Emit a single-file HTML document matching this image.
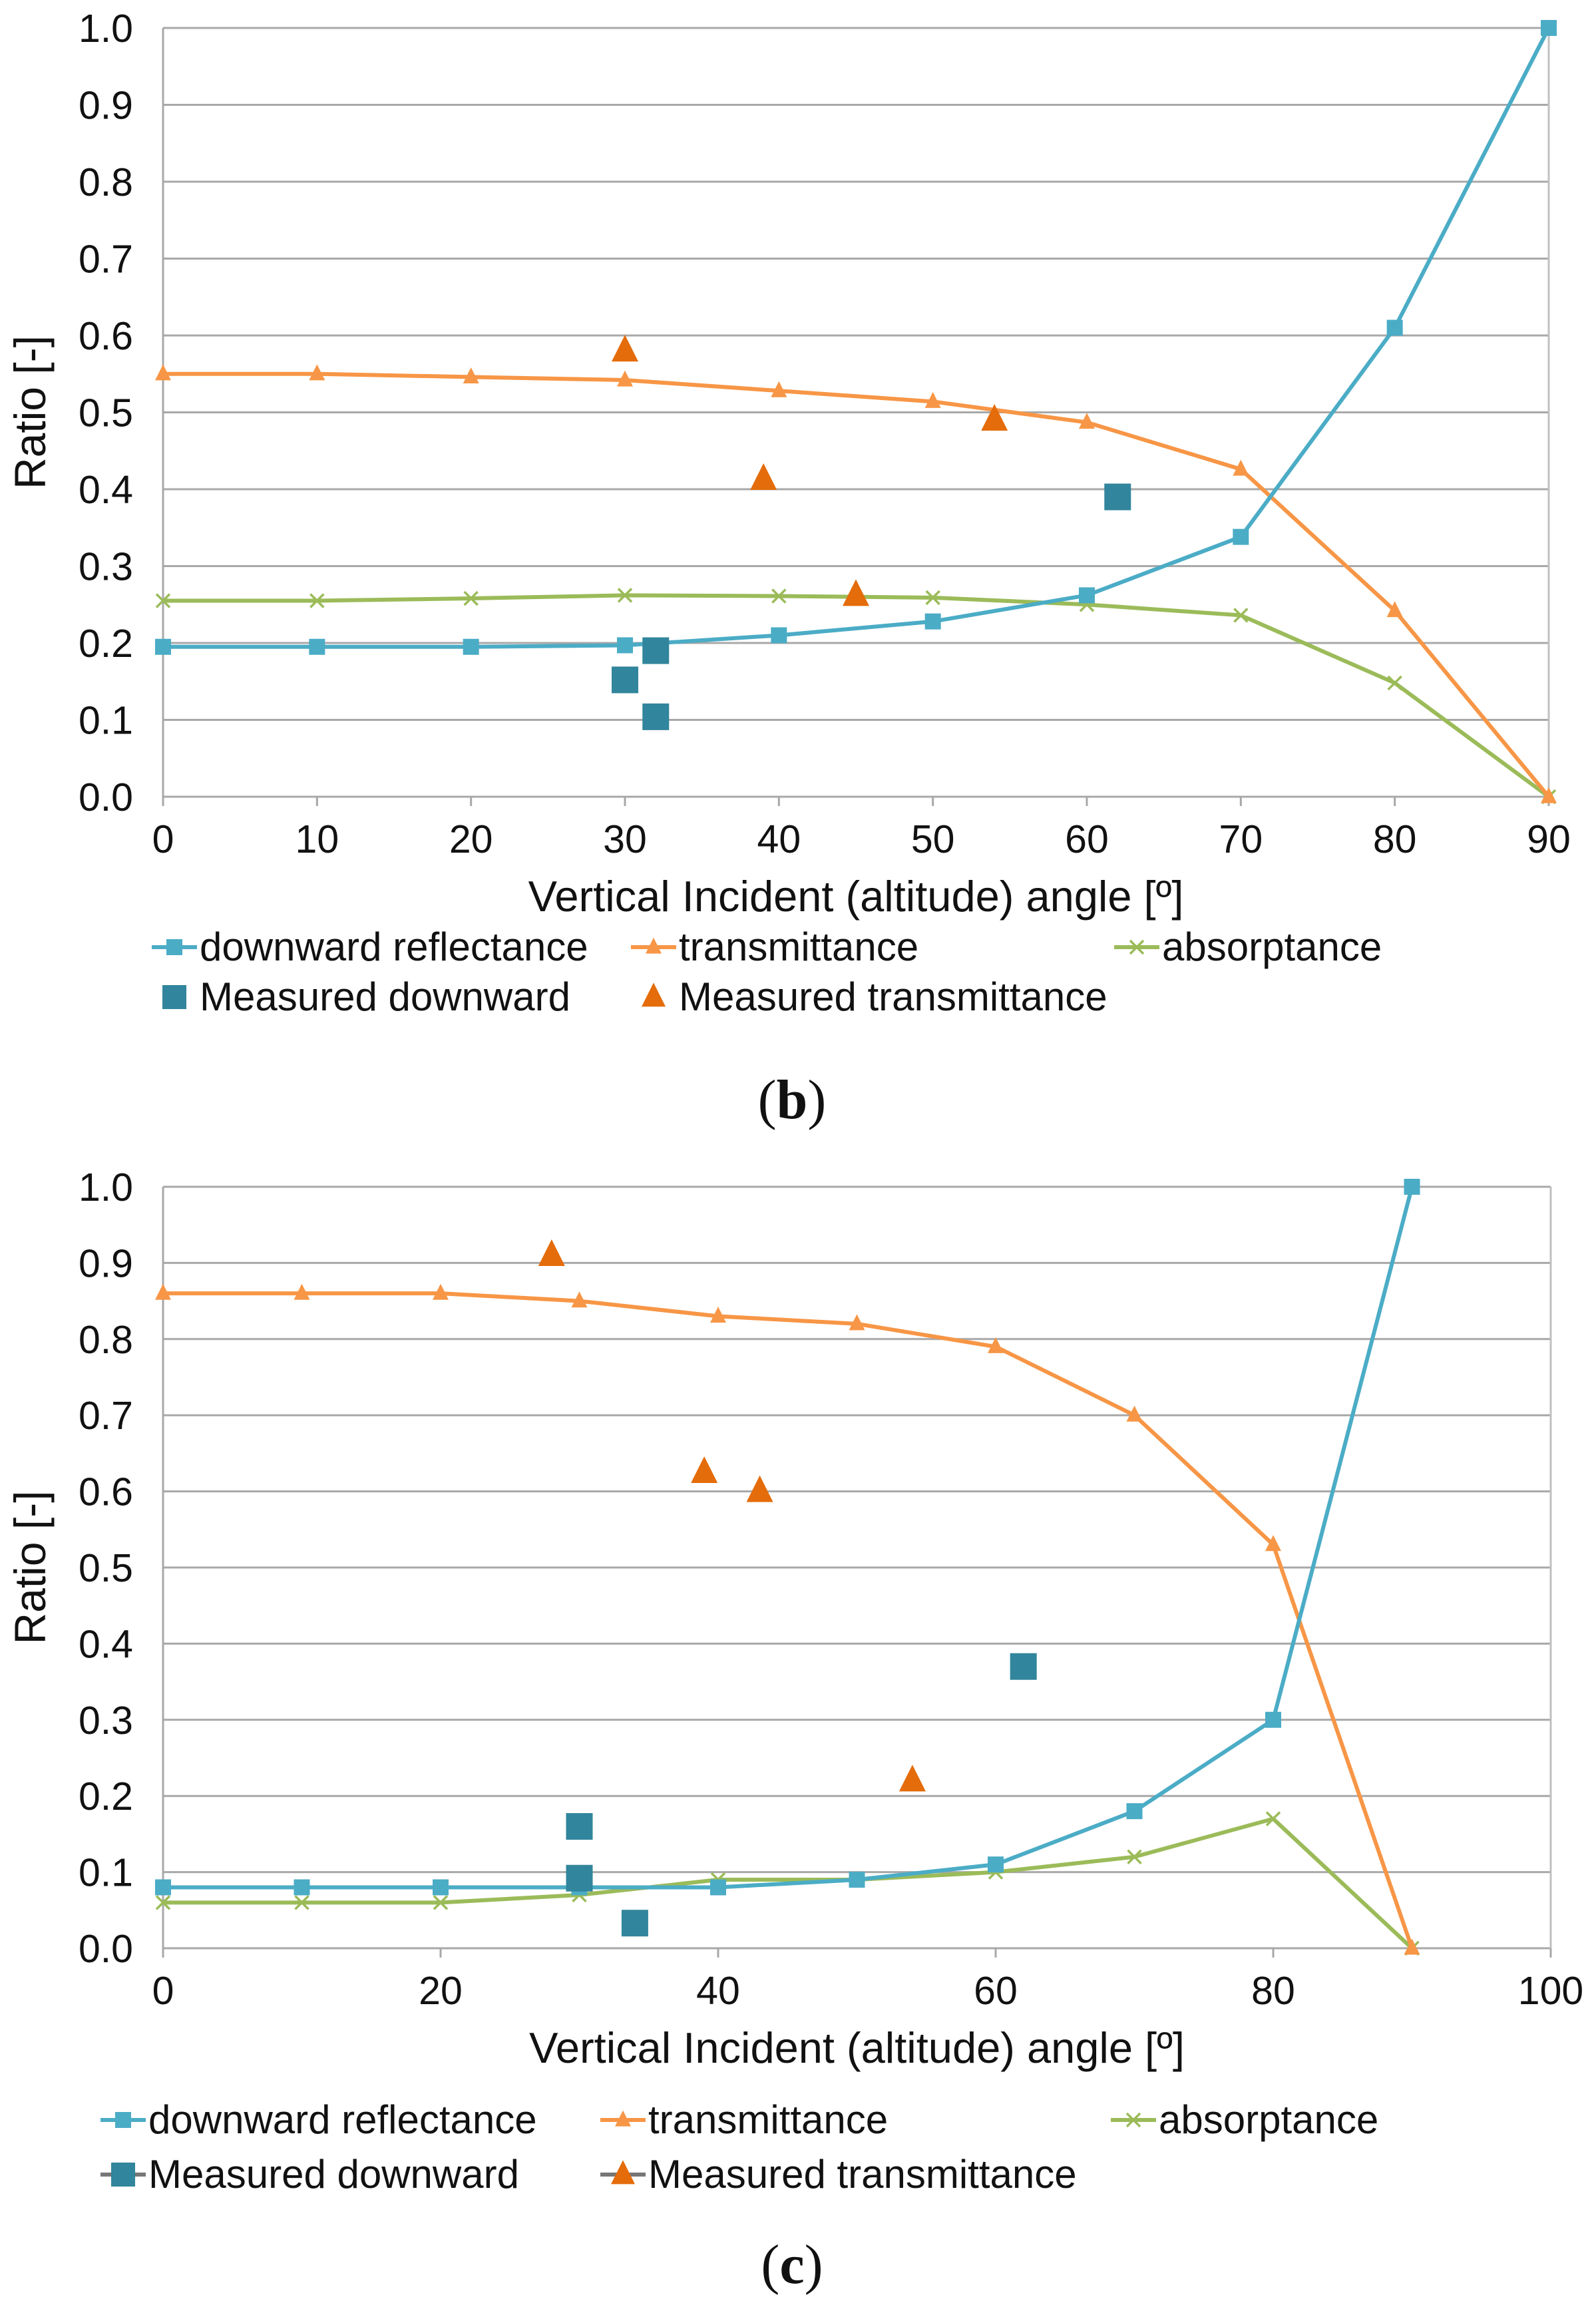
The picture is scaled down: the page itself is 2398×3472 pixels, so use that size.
<!DOCTYPE html>
<html><head><meta charset="utf-8"><style>
html,body{margin:0;padding:0;background:#fff;}
svg{display:block;font-family:"Liberation Sans",Arial,sans-serif;}
</style></head><body>
<svg id="fig" width="2398" height="3472" viewBox="0 0 2398 3472" xmlns="http://www.w3.org/2000/svg"></svg>
<script>
// Chart (b)
const bAngles = [0,10,20,30,40,50,60,70,80,90];
const bReflect = [0.195,0.195,0.195,0.197,0.21,0.228,0.262,0.338,0.61,1.0];
const bTrans = [0.55,0.55,0.546,0.542,0.528,0.514,0.487,0.426,0.242,0.0];
const bAbs = [0.255,0.255,0.258,0.262,0.261,0.259,0.25,0.236,0.148,0.0];
const bMeasDownX = [30,32,32,62];
const bMeasDownY = [0.152,0.19,0.104,0.39];
const bMeasTransX = [30,39,45,54];
const bMeasTransY = [0.58,0.413,0.262,0.49];
const bXTicks = [0,10,20,30,40,50,60,70,80,90];
// Chart (c)
const cAngles = [0,10,20,30,40,50,60,70,80,90];
const cReflect = [0.08,0.08,0.08,0.08,0.08,0.09,0.11,0.18,0.30,1.0];
const cTrans = [0.86,0.86,0.86,0.85,0.83,0.82,0.79,0.70,0.53,0.0];
const cAbs = [0.06,0.06,0.06,0.07,0.09,0.09,0.10,0.12,0.17,0.0];
const cMeasDownX = [30,30,34,62];
const cMeasDownY = [0.16,0.092,0.033,0.37];
const cMeasTransX = [28,39,43,54];
const cMeasTransY = [0.91,0.625,0.60,0.22];
const cXTicks = [0,20,40,60,80,100];
const yTicks = [0,0.1,0.2,0.3,0.4,0.5,0.6,0.7,0.8,0.9,1.0];

const NS = "http://www.w3.org/2000/svg";
const svg = document.getElementById('fig');
const C = {refl:'#4bacc6', trans:'#f79646', abs:'#9bbb59', md:'#31859c', mt:'#e46c0a', grid:'#a8a8a8'};
function mk(tag, attrs, parent){const e=document.createElementNS(NS,tag);for(const k in attrs)e.setAttribute(k,attrs[k]);(parent||svg).appendChild(e);return e;}
function txt(x,y,s,size,anchor,parent){const t=mk('text',{x:x,y:y,'font-size':size,'text-anchor':anchor||'start',fill:'#111'},parent);t.textContent=s;return t;}
function sq(g,x,y,s,col){return mk('rect',{x:x-s/2,y:y-s/2,width:s,height:s,fill:col},g);}
function tri(g,x,y,s,col){return mk('polygon',{points:`${x},${y-s*0.6} ${x-s/2},${y+s*0.4} ${x+s/2},${y+s*0.4}`,fill:col},g);}
function cross(g,x,y,s,col){return mk('path',{d:`M${x-s/2},${y-s/2}L${x+s/2},${y+s/2}M${x-s/2},${y+s/2}L${x+s/2},${y-s/2}`,stroke:col,'stroke-width':3.5,fill:'none'},g);}

function chart(cfg){
  const g=mk('g',{});
  
  
  const L=cfg.left,R=cfg.right,T=cfg.top,B=cfg.bottom;
  const xs=v=>L+(v-cfg.xmin)/(cfg.xmax-cfg.xmin)*(R-L);
  const ys=v=>B-v*(B-T);
  yTicks.forEach(v=>{
    const ln=mk('line',{x1:L,x2:R,y1:ys(v),y2:ys(v),stroke:C.grid,'stroke-width':3},g);
    
    
    const t=txt(L-45,ys(v)+21,v.toFixed(1),59,'end',g);
    
    
  });
  mk('line',{x1:L,x2:L,y1:T,y2:B,stroke:C.grid,'stroke-width':3},g);
  mk('line',{x1:R,x2:R,y1:T,y2:B,stroke:'#c0c0c0','stroke-width':3},g);
  cfg.xticks.forEach(v=>{
    mk('line',{x1:xs(v),x2:xs(v),y1:B,y2:B+14,stroke:C.grid,'stroke-width':3},g);
    const t=txt(xs(v),B+84,String(v),59,'middle',g);
    
    
  });
  const xt=txt((L+R)/2,B+172,'Vertical Incident (altitude) angle [º]',65,'middle',g);
  
  
  const yt=txt(0,0,'Ratio [-]',66,'middle',g);
  yt.setAttribute('transform',`translate(68,${(T+B)/2}) rotate(-90)`);
  
  
  function series(name,vals,col,mfn,ms){
    const sg=mk('g',{},g);
    
    
    mk('polyline',{points:cfg.ax.map((a,i)=>xs(a)+','+ys(vals[i])).join(' '),fill:'none',stroke:col,'stroke-width':6},sg);
    cfg.ax.forEach((a,i)=>mfn(sg,xs(a),ys(vals[i]),ms,col));
  }
  series('absorptance-series',cfg.abs,C.abs,cross,20);
  series('transmittance-series',cfg.trans,C.trans,tri,24);
  series('reflectance-series',cfg.refl,C.refl,sq,24);
  const mg=mk('g',{},g);
  
  
  cfg.mdx.forEach((x,i)=>sq(mg,xs(x),ys(cfg.mdy[i]),40,C.md));
  const mt=mk('g',{},g);
  
  
  cfg.mtx.forEach((x,i)=>tri(mt,xs(x),ys(cfg.mty[i]),40,C.mt));
  const lg=mk('g',{},g);
  
  
  const r1=cfg.leg1, r2=cfg.leg2;
  function entry(x,y,label,col,mfn,ms,line){
    const eg=mk('g',{},lg);
    
    
    if(line) mk('line',{x1:x-72,x2:x-4,y1:y-20,y2:y-20,stroke:line,'stroke-width':6},eg);
    mfn(eg,x-38,y-20,ms,col);
    txt(x,y,label,60,'start',eg);
  }
  entry(cfg.lx[0],r1,'downward reflectance',C.refl,sq,24,C.refl);
  entry(cfg.lx[1],r1,'transmittance',C.trans,tri,24,C.trans);
  entry(cfg.lx[2],r1,'absorptance',C.abs,cross,20,C.abs);
  entry(cfg.lx[0],r2,'Measured downward',C.md,sq,36,cfg.lineMeas?'#777':null);
  entry(cfg.lx[1],r2,'Measured transmittance',C.mt,tri,36,cfg.lineMeas?'#777':null);
  const cap=txt(1190,cfg.capY,'',84,'middle',g);
  cap.setAttribute('font-family','"Liberation Serif",serif');
  
  
  cap.innerHTML='(<tspan font-weight="bold">'+cfg.cap+'</tspan>)';
}
chart({name:'chart-b',left:245,right:2327,top:42,bottom:1197,xmin:0,xmax:90,xticks:bXTicks,ax:bAngles,
  refl:bReflect,trans:bTrans,abs:bAbs,mdx:bMeasDownX,mdy:bMeasDownY,mtx:bMeasTransX,mty:bMeasTransY,
  leg1:1443,leg2:1518,lx:[300,1020,1746],lineMeas:false,capY:1680,cap:'b'});
chart({name:'chart-c',left:245,right:2330,top:1783,bottom:2927,xmin:0,xmax:100,xticks:cXTicks,ax:cAngles,
  refl:cReflect,trans:cTrans,abs:cAbs,mdx:cMeasDownX,mdy:cMeasDownY,mtx:cMeasTransX,mty:cMeasTransY,
  leg1:3205,leg2:3287,lx:[223,974,1741],lineMeas:true,capY:3430,cap:'c'});
</script>
</body></html>
